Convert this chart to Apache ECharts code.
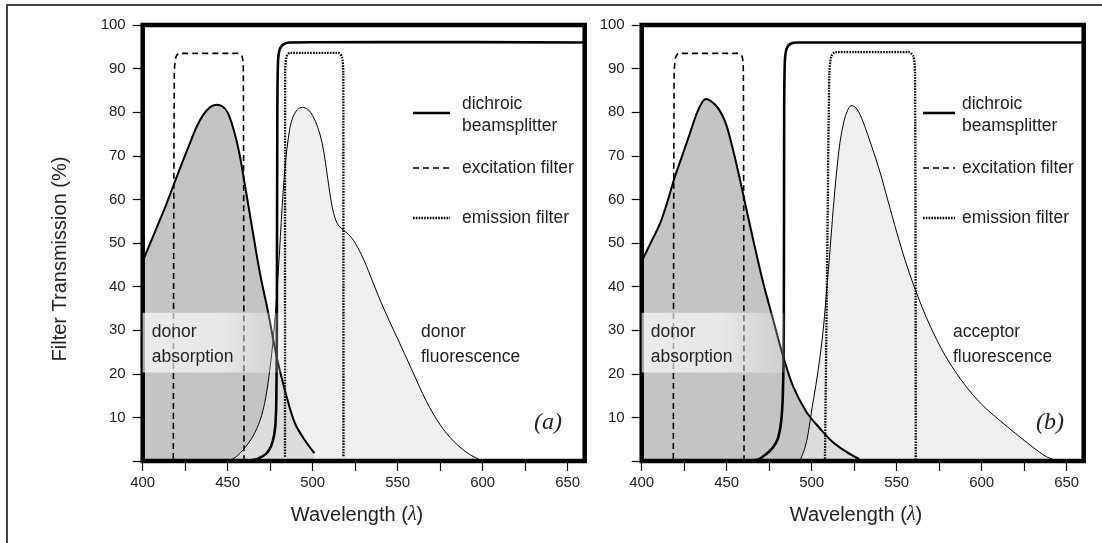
<!DOCTYPE html>
<html>
<head>
<meta charset="utf-8">
<script src="https://cdn.jsdelivr.net/npm/echarts@6/dist/echarts.min.js"></script>
<style>
html,body{margin:0;padding:0;background:#fff;}
#chart{width:1102px;height:543px;}
</style>
</head>
<body>
<div id="chart"></div>
<script>
// ---------- data (wavelength nm, % transmission / normalised intensity) ----------
const xTickValues = [400, 425, 450, 475, 500, 525, 550, 575, 600, 625, 650];
const xLabelValues = [400, 450, 500, 550, 600, 650];
const yTickValues = [0, 10, 20, 30, 40, 50, 60, 70, 80, 90, 100];
const yLabelValues = [10, 20, 30, 40, 50, 60, 70, 80, 90, 100];
const legendNames = ['dichroic\nbeamsplitter', 'excitation filter', 'emission filter'];
const panelTags = ['(a)', '(b)'];
const absorptionLabel = ['donor', 'absorption'];
const fluorescenceLabels = [['donor', 'fluorescence'], ['acceptor', 'fluorescence']];

// panel (a)
const absorptionA = [[400,45.8],[405,50.5],[410,55.2],[414,59],[418.6,63.7],[423,68.2],[427.8,72.9],[431.5,76.5],[435.6,79.4],[439.5,81.1],[443.5,81.7],[447,81.3],[450,79.9],[452.5,77.3],[455,73.8],[457.4,69.5],[459.2,65.4],[462,59],[465,52],[469,43],[473.9,33.9],[478.8,23.9],[484.7,14.7],[489.6,8.6],[495,5],[501,1.8]];
const fluorescenceA = [[451,0],[456,1.3],[462,4],[466,6.5],[470,10.5],[473,16],[476,25],[478,33.5],[480,45],[482,58],[484,68.5],[486,75],[488,78.5],[491,80.6],[494,81.1],[497,80.7],[500,79.2],[503,76.5],[505.5,73],[507.5,68.5],[509.5,63],[511.5,58.2],[513.5,55.3],[515.5,53.9],[518,53],[521,52],[524,50.6],[527,48.6],[530,46.2],[533,43.4],[536,40.4],[540,36.6],[545,32.2],[550,28],[558,21.2],[567,13.6],[575,8.3],[583,4.5],[592,1.6],[600,0]];
const excitationA = [[418,0.5],[418.6,89],[419.5,92.6],[421.5,93.5],[456.5,93.5],[458.6,92.6],[459.2,89],[459.6,0.5]];
const emissionA = [[483.7,1],[483.8,89],[484.6,92.7],[486.5,93.6],[515,93.6],[517.2,92.7],[518,89],[518.1,1]];
const dichroicA = [[458,0],[466,0.3],[471,1.2],[474,2.3],[476.5,4.5],[478,8],[478.6,14],[478.9,30],[479.2,80],[479.6,91.5],[480.5,94.3],[482.5,95.5],[486,96],[540,96.1],[660,96]];

// panel (b)
const absorptionB = [[400,45.8],[405,49.8],[410.8,54.5],[415,59.3],[419.2,64.8],[424,70.2],[428.4,75.2],[432,79.3],[435,81.9],[437.8,83],[440.5,82.6],[443.5,81.6],[446,80.3],[448,78.8],[450,76.8],[452.5,73.3],[455.5,68.5],[459.5,61.5],[465.6,50.7],[471.5,40.8],[477.4,32.3],[483.3,23.9],[489.2,17],[497,11.2],[505,7.4],[512,4.5],[520,2.2],[528,0.4]];
const fluorescenceB = [[493,0],[496,3],[498,6.5],[500,11.7],[502.5,17.5],[504.9,24],[507,31],[508.8,39.2],[510.8,48.5],[512.7,58],[514.7,66.5],[516.6,73],[519,78],[521,80.3],[523.3,81.5],[525.5,81.2],[528,79.8],[531,77],[535,72.5],[540,66.5],[545,59.5],[550,52.5],[555,46],[560,40.3],[565,35.2],[570,30.7],[575,26.7],[580,23.2],[590,17.5],[600,13],[610,9.5],[620,6.3],[630,3.2],[638,1],[645,0]];
const excitationB = [[418.6,0.5],[419.1,89],[420,92.6],[422,93.5],[457,93.5],[459.2,92.6],[459.8,89],[460.2,0.5]];
const emissionB = [[507.8,0.5],[509.5,60],[510.4,89],[511.5,92.8],[514,93.8],[557,93.8],[559.8,92.8],[560.8,89],[561.2,0.5]];
const dichroicB = [[455,0],[468,0.3],[473,1.5],[477,3],[480,5],[482,9],[483,15],[483.6,30],[483.8,80],[484.2,91.5],[485.2,94.5],[487.5,95.7],[492,96],[660,96]];

// label band region (data units)
const bandX = [400, 484];
const bandY = [20.3, 34];

const panels = [
  {abs: absorptionA, flu: fluorescenceA, exc: excitationA, emi: emissionA, dic: dichroicA},
  {abs: absorptionB, flu: fluorescenceB, exc: excitationB, emi: emissionB, dic: dichroicB}
];

// ---------- layout ----------
const gridLefts = [142.7, 641.7];
const FONT = '"Liberation Sans", Arial, Helvetica, sans-serif';
const DOTS = [1.6, 1.2];

const grids = [], xAxes = [], yAxes = [], series = [];
panels.forEach((p, i) => {
  grids.push({left: gridLefts[i], top: 25, width: 442, height: 436, show: true,
    borderColor: '#000', borderWidth: 4.5, backgroundColor: 'transparent', z: 10});
  xAxes.push({gridIndex: i, type: 'value', min: 400, max: 660, interval: 25,
    axisLine: {show: false},
    axisTick: {show: true, length: 10, customValues: xTickValues, lineStyle: {color: '#000', width: 1.2}},
    axisLabel: {customValues: xLabelValues, color: '#222', fontSize: 15, fontFamily: FONT, margin: 14},
    splitLine: {show: false}});
  yAxes.push({gridIndex: i, type: 'value', min: 0, max: 100, interval: 10,
    axisLine: {show: false},
    axisTick: {show: true, length: 10, customValues: yTickValues, lineStyle: {color: '#000', width: 1.2}},
    axisLabel: {customValues: yLabelValues, color: '#222', fontSize: 15, fontFamily: FONT, margin: 17},
    splitLine: {show: false}});
  const base = {type: 'line', xAxisIndex: i, yAxisIndex: i, symbol: 'none', silent: true, animation: false};
  // filled areas (no outline) first
  series.push(Object.assign({}, base, {name: 'absorption area ' + i, data: p.abs, z: 2, smooth: 0.35,
    lineStyle: {width: 0, opacity: 0}, areaStyle: {color: '#c4c4c4', opacity: 1}}));
  series.push(Object.assign({}, base, {name: 'fluorescence area ' + i, data: p.flu, z: 3, smooth: 0.35,
    lineStyle: {width: 0, opacity: 0}, areaStyle: {color: 'rgb(232,232,232)', opacity: 0.68}}));
  // outlines on top
  series.push(Object.assign({}, base, {name: 'absorption ' + i, data: p.abs, z: 4, smooth: 0.35,
    lineStyle: {color: '#000', width: 2}}));
  series.push(Object.assign({}, base, {name: 'fluorescence ' + i, data: p.flu, z: 4, smooth: 0.35,
    lineStyle: {color: '#000', width: 1}}));
  series.push(Object.assign({}, base, {name: 'excitation filter ' + i, data: p.exc, z: 5, smooth: 0.25,
    lineStyle: {color: '#000', width: 1.6, type: [6, 4]}}));
  series.push(Object.assign({}, base, {name: 'emission filter ' + i, data: p.emi, z: 5, smooth: 0.25,
    lineStyle: {color: '#000', width: 2.3, type: DOTS}}));
  series.push(Object.assign({}, base, {name: 'dichroic ' + i, data: p.dic, z: 6, smooth: 0.25,
    lineStyle: {color: '#000', width: 2.6}}));
  series.push(Object.assign({}, base, {name: 'band ' + i, data: [], z: 8,
    markArea: {silent: true, z: 20,
      itemStyle: {color: {type: 'linear', x: 0, y: 0, x2: 1, y2: 0, colorStops: [
        {offset: 0, color: 'rgba(255,255,255,0.66)'},
        {offset: 0.55, color: 'rgba(255,255,255,0.6)'},
        {offset: 1, color: 'rgba(255,255,255,0.18)'}]}},
      data: [[{xAxis: bandX[0], yAxis: bandY[0]}, {xAxis: bandX[1], yAxis: bandY[1]}]]}}));
});

// ---------- texts & legend (graphic) ----------
const graphic = [];
graphic.push({type: 'rect', z: 0, shape: {x: 7, y: 5, width: 1300, height: 700},
  style: {fill: 'none', stroke: '#444', lineWidth: 2}});
function txt(text, x, y, extra) {
  return Object.assign({type: 'text', x, y, z: 50,
    style: Object.assign({text, font: '17.5px ' + FONT, fill: '#222', align: 'left', verticalAlign: 'middle'}, extra || {})});
}
const yTitle = txt('Filter Transmission (%)', 60, 259, {font: '20px ' + FONT, align: 'center'});
yTitle.rotation = Math.PI / 2;
graphic.push(yTitle);

const legendX = [[413, 450, 462], [923, 955, 962]];
const titleX = [357, 856];
const tagX = [548, 1050];
const fluoX = [421, 953];
[0, 1].forEach(i => {
  const [l1, l2, tx] = legendX[i];
  graphic.push({type: 'line', z: 50, shape: {x1: l1, y1: 113, x2: l2, y2: 113}, style: {stroke: '#000', lineWidth: 2.6}});
  graphic.push({type: 'line', z: 50, shape: {x1: l1, y1: 168, x2: l2, y2: 168}, style: {stroke: '#000', lineWidth: 1.6, lineDash: [6, 4]}});
  graphic.push({type: 'line', z: 50, shape: {x1: l1, y1: 218, x2: l2, y2: 218}, style: {stroke: '#000', lineWidth: 2.3, lineDash: DOTS}});
  const dn = legendNames[0].split('\n');
  graphic.push(txt(dn[0], tx, 104));
  graphic.push(txt(dn[1], tx, 126));
  graphic.push(txt(legendNames[1], tx, 168));
  graphic.push(txt(legendNames[2], tx, 218));
  graphic.push(txt(absorptionLabel[0], gridLefts[i] + 9, 332));
  graphic.push(txt(absorptionLabel[1], gridLefts[i] + 9, 357));
  graphic.push(txt(fluorescenceLabels[i][0], fluoX[i], 332));
  graphic.push(txt(fluorescenceLabels[i][1], fluoX[i], 357));
  graphic.push(txt(panelTags[i], tagX[i], 423, {font: 'italic 24px "Liberation Serif", "Times New Roman", serif', align: 'center'}));
  graphic.push({type: 'text', x: titleX[i], y: 515, z: 50,
    style: {text: '{n|Wavelength (}{l|λ}{n|)}', align: 'center', verticalAlign: 'middle',
      rich: {n: {font: '20px ' + FONT, fill: '#222'}, l: {font: 'italic 20px "Liberation Serif", serif', fill: '#222'}}}});
});

const chart = echarts.init(document.getElementById('chart'), null, {renderer: 'canvas'});
chart.setOption({
  animation: false,
  backgroundColor: '#fff',
  grid: grids, xAxis: xAxes, yAxis: yAxes, series: series,
  graphic: graphic
});
</script>
</body>
</html>
